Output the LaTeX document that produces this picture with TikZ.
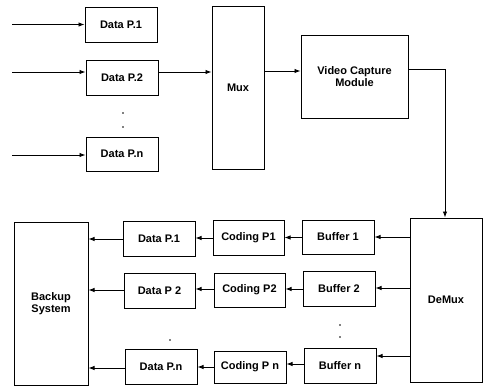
\documentclass[tikz,border=0pt]{standalone}
\usepackage{fontspec}
\setmainfont{Liberation Sans}
\usetikzlibrary{arrows.meta}
\begin{document}
\begin{tikzpicture}[x=1pt,y=-1pt,
  blk/.style={draw,line width=1pt,inner sep=0pt,font=\fontsize{11}{12.5}\selectfont\bfseries,align=center},
  conn/.style={line width=0.9pt,-{Latex[length=6pt,width=4.5pt]}},
  dot/.style={circle,fill,inner sep=0pt,minimum size=1.8pt}]
\useasboundingbox (0,0) rectangle (483,386);
% top inputs
\node[blk,minimum width=72pt,minimum height=35pt] (dp1) at (121,24.5) {Data P.1};
\node[blk,minimum width=72pt,minimum height=35pt] (dp2) at (122,77.5) {Data P.2};
\node[blk,minimum width=72pt,minimum height=34pt] (dpn) at (122,154) {Data P.n};
\node[dot] (t1) at (123,113) {};
\node[dot] (t2) at (123,127) {};
\coordinate (i1) at (12,24.5);
\coordinate (i2) at (12,72);
\coordinate (in) at (12,155);
\draw[conn] (i1) -- (dp1.west|-i1);
\draw[conn] (i2) -- (dp2.west|-i2);
\draw[conn] (in) -- (dpn.west|-in);
\node[blk,minimum width=52pt,minimum height=163pt] (mux) at (238,88) {Mux};
\draw[conn] (dp2.east|-i2) -- (mux.west|-i2);
\node[blk,minimum width=107pt,minimum height=83pt] (vcm) at (354.5,76.5) {Video Capture\\Module};
\draw[conn] (mux.east|-0,71) -- (vcm.west|-0,71);
\node[blk,minimum width=72pt,minimum height=164pt] (demux) at (446,300) {DeMux};
\coordinate (c1) at (445,69);
\draw[conn] (vcm.east|-c1) -- (c1) -- (c1|-demux.north);
% buffers
\node[blk,minimum width=72pt,minimum height=34pt] (b1) at (338,237) {Buffer 1};
\node[blk,minimum width=72pt,minimum height=35pt] (b2) at (339,288.5) {Buffer 2};
\node[blk,minimum width=72pt,minimum height=35pt] (bn) at (340,365.5) {Buffer n};
\node[dot] (u1) at (340,325) {};
\node[dot] (u2) at (340,337) {};
\draw[conn] (demux.west|-0,237) -- (b1.east|-0,237);
\draw[conn] (demux.west|-0,288) -- (b2.east|-0,288);
\draw[conn] (demux.west|-0,356) -- (bn.east|-0,356);
% coding
\node[blk,minimum width=71pt,minimum height=35pt] (cp1) at (248.5,237.5) {Coding P1};
\node[blk,minimum width=71pt,minimum height=34pt] (cp2) at (249.5,290) {Coding P2};
\node[blk,minimum width=72pt,minimum height=32pt] (cpn) at (250,367) {Coding P n};
\draw[conn] (b1.west|-0,237.5) -- (cp1.east|-0,237.5);
\draw[conn] (b2.west|-0,289) -- (cp2.east|-0,289);
\draw[conn] (bn.west|-0,364) -- (cpn.east|-0,364);
% data out
\node[blk,minimum width=72pt,minimum height=35pt] (d1) at (159,238.5) {Data P.1};
\node[blk,minimum width=71pt,minimum height=35pt] (d2) at (159.5,290.5) {Data P 2};
\node[blk,minimum width=72pt,minimum height=35pt] (dn) at (161,366.5) {Data P.n};
\node[dot] (v1) at (170,340) {};
\draw[conn] (cp1.west|-0,238) -- (d1.east|-0,238);
\draw[conn] (cp2.west|-0,289) -- (d2.east|-0,289);
\draw[conn] (cpn.west|-0,367) -- (dn.east|-0,367);
\node[blk,minimum width=74pt,minimum height=163pt] (bk) at (51,303.5) {Backup\\System};
\draw[conn] (d1.west|-0,239) -- (bk.east|-0,239);
\draw[conn] (d2.west|-0,290) -- (bk.east|-0,290);
\draw[conn] (dn.west|-0,368) -- (bk.east|-0,368);
\end{tikzpicture}
\end{document}
